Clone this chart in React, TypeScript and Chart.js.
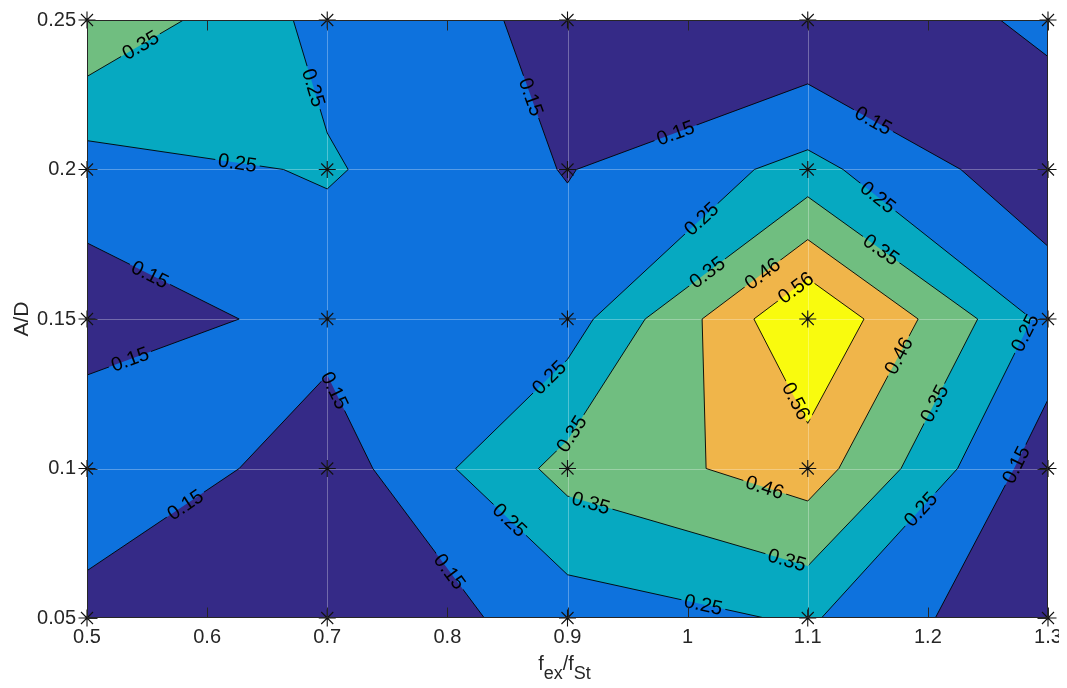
import React, { useEffect, useRef } from "react";
import { Chart, registerables } from "chart.js";

Chart.register(...registerables);

// ---- data ----
const xValues = [0.5, 0.7, 0.9, 1.1, 1.3];
const yValues = [0.05, 0.1, 0.15, 0.2, 0.25];
// one row per A/D value (bottom to top), one column per f_ex/f_St value
const zAtAD005 = [0.106, 0.065, 0.195, 0.262, 0.051];
const zAtAD010 = [0.245, 0.095, 0.385, 0.515, 0.09];
const zAtAD015 = [0.093, 0.183, 0.2, 0.664, 0.22];
const zAtAD020 = [0.205, 0.26, 0.145, 0.28, 0.076];
const zAtAD025 = [0.438, 0.219, 0.125, 0.053, 0.174];
const zGrid = [zAtAD005, zAtAD010, zAtAD015, zAtAD020, zAtAD025];

const levels = [0.15, 0.25, 0.35, 0.46, 0.56];
const levelText = ["0.15", "0.25", "0.35", "0.46", "0.56"];
const bandColors = ["#352a87", "#0e72dd", "#06a9c1", "#70be80", "#f0b54a", "#f9fb0e"];

const xTicks = [0.5, 0.6, 0.7, 0.8, 0.9, 1.0, 1.1, 1.2, 1.3];
const yTicks = [0.05, 0.1, 0.15, 0.2, 0.25];

// approximate positions of the inline contour labels (data coords) and their level index
const labelXs = [0.546, 0.688, 0.625, 0.869, 0.99, 1.154, 1.158, 1.013, 1.162, 1.016, 1.052, 1.091, 0.551, 0.535, 0.886, 0.702, 1.286, 1.176, 1.092, 0.9, 1.206, 0.577, 1.272, 0.919, 1.064, 0.851, 1.202, 1.084, 0.798, 1.013];
const labelYs = [0.2406, 0.2273, 0.2015, 0.2242, 0.2122, 0.2159, 0.1905, 0.1828, 0.1737, 0.1657, 0.1707, 0.16, 0.1637, 0.1373, 0.1299, 0.1253, 0.1443, 0.1376, 0.1229, 0.1125, 0.1216, 0.0908, 0.1015, 0.0878, 0.0935, 0.0824, 0.0834, 0.0712, 0.0644, 0.0543];
const labelLevels = [2, 1, 1, 0, 0, 0, 1, 1, 2, 2, 3, 4, 0, 0, 1, 0, 1, 3, 4, 2, 2, 0, 0, 2, 3, 1, 1, 2, 0, 1];

const FONT = "'Liberation Sans', Arial, Helvetica, sans-serif";
const AXIS_COLOR = "#262626";
const W = 1059;
const H = 680;

type P = { x: number; y: number; c: boolean };

function cellPolys(L: number): P[][] {
  const polys: P[][] = [];
  for (let j = 0; j < yValues.length - 1; j++) {
    for (let i = 0; i < xValues.length - 1; i++) {
      const idx = [[i, j], [i + 1, j], [i + 1, j + 1], [i, j + 1]];
      const cs = idx.map(([a, b]) => ({ x: xValues[a], y: yValues[b], v: zGrid[b][a] }));
      const up = cs.map((c) => c.v >= L);
      const n = up.filter(Boolean).length;
      if (n === 0) continue;
      const cross = (k: number): P => {
        const p = cs[k];
        const q = cs[(k + 1) % 4];
        const t = (L - p.v) / (q.v - p.v);
        return { x: p.x + t * (q.x - p.x), y: p.y + t * (q.y - p.y), c: true };
      };
      const saddle = n === 2 && up[0] === up[2];
      const center = (cs[0].v + cs[1].v + cs[2].v + cs[3].v) / 4;
      if (saddle && center < L) {
        for (let k = 0; k < 4; k++) {
          if (up[k]) polys.push([cross((k + 3) % 4), { x: cs[k].x, y: cs[k].y, c: false }, cross(k)]);
        }
      } else {
        const poly: P[] = [];
        for (let k = 0; k < 4; k++) {
          if (up[k]) poly.push({ x: cs[k].x, y: cs[k].y, c: false });
          if (up[k] !== up[(k + 1) % 4]) poly.push(cross(k));
        }
        polys.push(poly);
      }
    }
  }
  return polys;
}

const contourPlugin = {
  id: "contourFill",
  beforeDatasetsDraw(chart: any) {
    const { ctx, chartArea: a } = chart;
    const xs = chart.scales.x;
    const ys = chart.scales.y;
    const px = (v: number) => xs.getPixelForValue(v);
    const py = (v: number) => ys.getPixelForValue(v);
    ctx.save();
    ctx.beginPath();
    ctx.rect(a.left, a.top, a.right - a.left, a.bottom - a.top);
    ctx.clip();
    ctx.fillStyle = bandColors[0];
    ctx.fillRect(a.left, a.top, a.right - a.left, a.bottom - a.top);

    const segs: number[][][] = [];
    levels.forEach((L, li) => {
      const polys = cellPolys(L);
      ctx.beginPath();
      const ls: number[][] = [];
      polys.forEach((poly) => {
        poly.forEach((p, m) => {
          if (m === 0) ctx.moveTo(px(p.x), py(p.y));
          else ctx.lineTo(px(p.x), py(p.y));
        });
        ctx.closePath();
        for (let m = 0; m < poly.length; m++) {
          const p = poly[m];
          const q = poly[(m + 1) % poly.length];
          if (p.c && q.c) ls.push([px(p.x), py(p.y), px(q.x), py(q.y)]);
        }
      });
      ctx.fillStyle = bandColors[li + 1];
      ctx.fill();
      segs.push(ls);
    });

    // light lines through the sampled positions
    ctx.strokeStyle = "rgba(255,255,255,0.3)";
    ctx.lineWidth = 1;
    ctx.beginPath();
    xValues.forEach((v) => {
      const x = Math.round(px(v)) + 0.5;
      ctx.moveTo(x, a.top);
      ctx.lineTo(x, a.bottom);
    });
    yValues.forEach((v) => {
      const y = Math.round(py(v)) + 0.5;
      ctx.moveTo(a.left, y);
      ctx.lineTo(a.right, y);
    });
    ctx.stroke();

    // labels geometry
    ctx.font = `20px ${FONT}`;
    const labels = labelXs.map((lx, k) => {
      const li = labelLevels[k];
      const tx = px(lx);
      const ty = py(labelYs[k]);
      let best = { d: Infinity, x: tx, y: ty, ang: 0 };
      segs[li].forEach(([x1, y1, x2, y2]) => {
        const dx = x2 - x1;
        const dy = y2 - y1;
        const len2 = dx * dx + dy * dy;
        let t = len2 > 0 ? ((tx - x1) * dx + (ty - y1) * dy) / len2 : 0;
        t = Math.max(0, Math.min(1, t));
        const cx = x1 + t * dx;
        const cy = y1 + t * dy;
        const d = (cx - tx) ** 2 + (cy - ty) ** 2;
        if (d < best.d) best = { d, x: cx, y: cy, ang: Math.atan2(dy, dx) };
      });
      let ang = best.ang;
      if (ang > Math.PI / 2) ang -= Math.PI;
      if (ang <= -Math.PI / 2) ang += Math.PI;
      const w = ctx.measureText(levelText[li]).width;
      return { x: best.x, y: best.y, ang, w, text: levelText[li] };
    });

    // contour lines with gaps under labels
    ctx.save();
    ctx.beginPath();
    ctx.rect(a.left - 5, a.top - 5, a.right - a.left + 10, a.bottom - a.top + 10);
    labels.forEach((lb) => {
      const hw = lb.w / 2 + 3;
      const hh = 8;
      const c = Math.cos(lb.ang);
      const s = Math.sin(lb.ang);
      const pts = [[-hw, -hh], [hw, -hh], [hw, hh], [-hw, hh]].map(([u, v]) => [lb.x + u * c - v * s, lb.y + u * s + v * c]);
      ctx.moveTo(pts[0][0], pts[0][1]);
      for (let m = 1; m < 4; m++) ctx.lineTo(pts[m][0], pts[m][1]);
      ctx.closePath();
    });
    ctx.clip("evenodd");
    ctx.strokeStyle = "#000";
    ctx.lineWidth = 0.9;
    ctx.beginPath();
    segs.forEach((ls) => ls.forEach(([x1, y1, x2, y2]) => {
      ctx.moveTo(x1, y1);
      ctx.lineTo(x2, y2);
    }));
    ctx.stroke();
    ctx.restore();

    ctx.fillStyle = "#000";
    ctx.textAlign = "center";
    ctx.textBaseline = "middle";
    labels.forEach((lb) => {
      ctx.save();
      ctx.translate(lb.x, lb.y);
      ctx.rotate(lb.ang);
      ctx.fillText(lb.text, 0, 1);
      ctx.restore();
    });
    ctx.restore();
  },
  afterDraw(chart: any) {
    const { ctx, chartArea: a } = chart;
    const xs = chart.scales.x;
    const ys = chart.scales.y;
    ctx.save();
    ctx.strokeStyle = AXIS_COLOR;
    ctx.lineWidth = 1;
    ctx.beginPath();
    const L = Math.round(a.left) + 0.5;
    const R = Math.round(a.right) - 0.5;
    const T = Math.round(a.top) + 0.5;
    const B = Math.round(a.bottom) - 0.5;
    ctx.rect(L, T, R - L, B - T);
    xTicks.forEach((v) => {
      const x = Math.round(xs.getPixelForValue(v)) + 0.5;
      ctx.moveTo(x, B);
      ctx.lineTo(x, B - 10);
      ctx.moveTo(x, T);
      ctx.lineTo(x, T + 10);
    });
    yTicks.forEach((v) => {
      const y = Math.round(ys.getPixelForValue(v)) + 0.5;
      ctx.moveTo(L, y);
      ctx.lineTo(L + 10, y);
      ctx.moveTo(R, y);
      ctx.lineTo(R - 10, y);
    });
    ctx.stroke();

    // axis titles
    ctx.fillStyle = AXIS_COLOR;
    ctx.textBaseline = "alphabetic";
    // y title
    ctx.save();
    ctx.font = `21px ${FONT}`;
    ctx.textAlign = "center";
    ctx.translate(20, (a.top + a.bottom) / 2);
    ctx.rotate(-Math.PI / 2);
    ctx.fillText("A/D", 0, 0);
    ctx.restore();
    // x title with subscripts
    const parts: [string, boolean][] = [["f", false], ["ex", true], ["/f", false], ["St", true]];
    const mainFont = `20px ${FONT}`;
    const subFont = `18px ${FONT}`;
    let total = 0;
    const widths = parts.map(([t, sub]) => {
      ctx.font = sub ? subFont : mainFont;
      const w = ctx.measureText(t).width;
      total += w;
      return w;
    });
    let x = (a.left + a.right) / 2 - total / 2 - 3;
    ctx.textAlign = "left";
    parts.forEach(([t, sub], k) => {
      ctx.font = sub ? subFont : mainFont;
      ctx.fillText(t, x, sub ? a.bottom + 61 : a.bottom + 52);
      x += widths[k];
    });
    ctx.restore();
  },
};

export default function App() {
  const ref = useRef<HTMLCanvasElement>(null);
  useEffect(() => {
    const points: { x: number; y: number }[] = [];
    yValues.forEach((y) => xValues.forEach((x) => points.push({ x, y })));
    const fmt = (v: any) => String(Number(Number(v).toFixed(2)));
    const chart = new Chart(ref.current as HTMLCanvasElement, {
      type: "scatter",
      data: {
        datasets: [
          {
            data: points,
            pointStyle: "star",
            pointRadius: 8.5,
            pointHoverRadius: 8.5,
            borderColor: "#111",
            backgroundColor: "rgba(0,0,0,0)",
            borderWidth: 1.1,
            clip: false,
          } as any,
        ],
      },
      options: {
        responsive: false,
        animation: false,
        events: [],
        layout: { padding: { top: 12, right: W - 1040, left: 0, bottom: 0 } },
        plugins: { legend: { display: false }, tooltip: { enabled: false } },
        scales: {
          x: {
            type: "linear",
            min: 0.5,
            max: 1.3,
            afterBuildTicks: (s: any) => {
              s.ticks = xTicks.map((value) => ({ value }));
            },
            afterFit: (s: any) => {
              s.height = H - 610;
              s.paddingLeft = 0;
              s.paddingRight = 0;
            },
            ticks: { callback: fmt, font: { family: FONT, size: 20 }, color: AXIS_COLOR, padding: 7, maxRotation: 0, autoSkip: false },
            grid: { display: false, drawTicks: false },
            border: { display: false },
          },
          y: {
            type: "linear",
            min: 0.05,
            max: 0.25,
            afterBuildTicks: (s: any) => {
              s.ticks = yTicks.map((value) => ({ value }));
            },
            afterFit: (s: any) => {
              s.width = 79;
              s.paddingTop = 0;
              s.paddingBottom = 0;
            },
            ticks: { callback: fmt, font: { family: FONT, size: 20 }, color: AXIS_COLOR, padding: 11, autoSkip: false },
            grid: { display: false, drawTicks: false },
            border: { display: false },
          },
        },
      } as any,
      plugins: [contourPlugin],
    });
    return () => chart.destroy();
  }, []);
  return (
    <div style={{ width: W, height: H, marginBottom: -8 }}>
      <canvas ref={ref} width={W} height={H} style={{ display: "block" }} />
    </div>
  );
}
